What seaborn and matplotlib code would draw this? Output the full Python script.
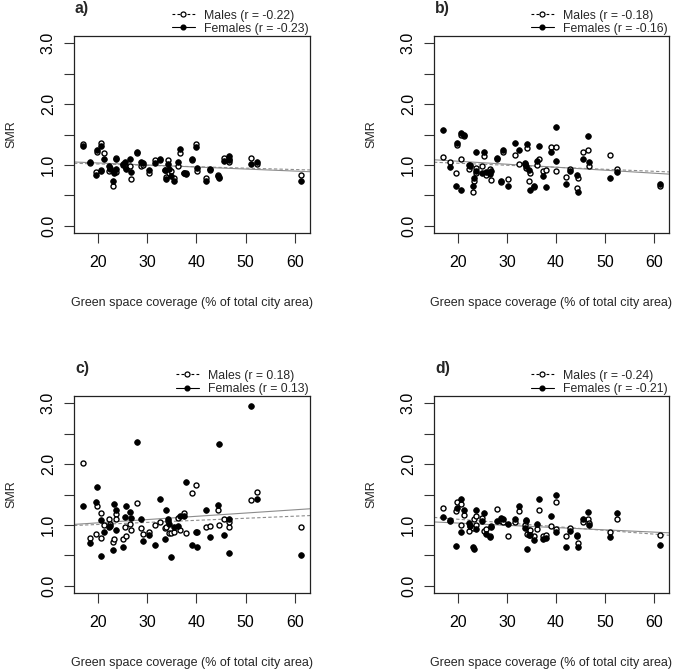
import numpy as np
import pandas as pd
import matplotlib
matplotlib.use("Agg")
import matplotlib.pyplot as plt
import seaborn as sns
from matplotlib.lines import Line2D

# Green space coverage (% of total city area) per city
green_space = [16.9, 18.4, 19.6, 19.8, 20.6, 20.7, 21.3, 22.2, 22.4, 23.1, 23.2, 23.6, 23.7,
               25.0, 25.4, 25.7, 26.5, 26.7, 27.9, 28.8, 29.2, 30.3, 31.6, 32.5, 33.6, 33.9,
               34.2, 34.5, 34.8, 35.5, 36.2, 36.6, 37.4, 37.9, 39.0, 40.0, 40.1, 42.0, 42.8,
               44.3, 44.6, 45.6, 46.6, 46.7, 51.0, 52.4, 61.3]

male_a = [1.35, 1.03, 0.89, 1.21, 1.36, 0.91, 1.19, 0.90, 0.95, 0.66, 0.89, 1.12, 0.89,
          1.00, 0.98, 0.95, 0.99, 0.76, 1.20, 0.98, 1.00, 0.87, 1.08, 1.08, 0.92, 0.80,
          1.08, 0.86, 0.90, 0.78, 0.99, 1.19, 0.87, 0.86, 1.08, 1.35, 0.90, 0.78, 0.92,
          0.83, 0.80, 1.11, 1.10, 1.04, 1.12, 1.01, 0.84]
female_a = [1.31, 1.05, 0.83, 1.24, 1.31, 0.90, 1.09, 0.98, 0.94, 0.74, 0.87, 1.09, 0.93,
            1.02, 1.04, 0.93, 1.10, 0.88, 1.22, 1.04, 1.03, 0.92, 1.03, 1.10, 0.91, 0.77,
            1.02, 0.94, 0.82, 0.74, 1.05, 1.26, 0.86, 0.85, 1.10, 1.29, 0.95, 0.73, 0.93,
            0.82, 0.79, 1.06, 1.15, 1.08, 1.02, 1.04, 0.74]

male_b = [1.13, 1.04, 0.87, 1.32, 1.50, 1.10, 1.47, 0.93, 1.00, 0.55, 0.74, 0.86, 0.95,
          0.99, 1.14, 0.83, 0.93, 0.75, 1.09, 0.72, 1.21, 0.77, 1.17, 1.02, 1.02, 0.95,
          1.28, 0.74, 0.87, 0.63, 1.00, 1.09, 0.90, 0.92, 1.29, 1.29, 0.90, 0.80, 0.93,
          0.62, 0.79, 1.22, 1.25, 0.98, 1.17, 0.93, 0.66]
female_b = [1.57, 0.97, 0.65, 1.36, 1.52, 0.58, 1.49, 1.00, 0.99, 0.65, 0.78, 1.21, 0.90,
            0.86, 1.21, 0.88, 0.85, 0.90, 1.12, 0.74, 1.25, 0.66, 1.36, 1.25, 1.03, 0.99,
            1.35, 0.91, 0.58, 0.66, 1.07, 1.31, 0.81, 0.64, 1.21, 1.63, 1.06, 0.68, 0.90,
            0.84, 0.55, 1.09, 1.47, 1.04, 0.78, 0.88, 0.68]

male_c = [2.01, 0.79, 0.85, 1.31, 1.20, 0.79, 1.00, 1.10, 1.02, 0.72, 0.77, 1.18, 1.10,
          0.76, 0.97, 0.81, 1.02, 0.91, 1.36, 0.95, 0.85, 0.89, 1.00, 1.05, 0.95, 0.97,
          1.07, 0.86, 0.86, 0.89, 1.12, 0.92, 1.19, 0.86, 1.52, 1.65, 0.89, 0.96, 0.98,
          1.24, 1.00, 1.09, 0.97, 1.05, 1.41, 1.54, 0.96]
female_c = [1.31, 0.70, 1.37, 1.62, 1.08, 0.49, 0.88, 0.96, 0.98, 0.59, 1.35, 1.24, 0.91,
            0.63, 1.13, 1.31, 1.21, 1.11, 2.37, 1.10, 0.74, 0.84, 0.67, 1.42, 0.76, 1.25,
            1.09, 1.02, 0.47, 0.97, 0.99, 1.15, 1.14, 1.71, 0.67, 0.89, 0.63, 1.24, 0.80,
            1.33, 2.33, 0.84, 1.10, 0.54, 2.95, 1.42, 0.50]

male_d = [1.28, 1.08, 1.23, 1.37, 1.35, 1.00, 1.16, 0.90, 0.99, 0.95, 1.09, 1.15, 1.00,
          1.12, 0.90, 0.93, 0.82, 0.98, 1.26, 1.06, 1.05, 0.81, 1.05, 1.23, 1.00, 1.06,
          0.85, 0.92, 0.92, 0.81, 0.94, 1.24, 0.82, 0.84, 0.99, 1.38, 0.93, 0.81, 0.95,
          0.83, 0.70, 1.04, 1.10, 1.03, 0.89, 1.09, 0.84]
female_d = [1.13, 1.07, 0.66, 1.28, 1.42, 0.88, 1.24, 1.03, 0.99, 0.64, 0.60, 1.24, 0.93,
            1.06, 1.19, 0.85, 0.80, 0.97, 1.06, 1.12, 1.09, 1.01, 1.09, 1.31, 0.95, 1.08,
            0.60, 0.84, 0.84, 0.75, 1.02, 1.43, 0.76, 0.79, 1.14, 1.49, 0.88, 0.63, 0.90,
            0.82, 0.64, 1.10, 1.22, 1.00, 0.80, 1.20, 0.67]

panel_labels = ["a)", "b)", "c)", "d)"]
r_male = [-0.22, -0.18, 0.18, -0.24]
r_female = [-0.23, -0.16, 0.13, -0.21]
x_ticks = [20, 30, 40, 50, 60]
y_ticks = [0.0, 0.5, 1.0, 1.5, 2.0, 2.5, 3.0]
y_tick_labels = ["0.0", "", "1.0", "", "2.0", "", "3.0"]
x_label = "Green space coverage (% of total city area)"
y_label = "SMR"

sns.set_theme(style="white")
plt.rcParams['font.family'] = ['Liberation Sans', 'DejaVu Sans']

W, H = 675, 672
fig = plt.figure(figsize=(W / 100, H / 100), dpi=100)

positions = [
    [74 / W, 1 - 233 / H, 236 / W, 197 / H],
    [434 / W, 1 - 233 / H, 235 / W, 197 / H],
    [74 / W, 1 - 593 / H, 236 / W, 197 / H],
    [434 / W, 1 - 593 / H, 235 / W, 197 / H],
]
males = [male_a, male_b, male_c, male_d]
females = [female_a, female_b, female_c, female_d]

XLIM = (15.12, 63.08)
YLIM = (-0.12, 3.12)
line_col = "#8c8c8c"

for i in range(4):
    ax = fig.add_axes(positions[i])
    ax.set_xlim(*XLIM)
    ax.set_ylim(*YLIM)
    df = pd.DataFrame({"x": green_space, "male": males[i], "female": females[i]})
    sns.regplot(data=df, x="x", y="male", ax=ax, scatter=False, ci=None, truncate=False,
                line_kws=dict(color=line_col, lw=0.8, ls=(0, (3, 2)), zorder=2))
    sns.regplot(data=df, x="x", y="female", ax=ax, scatter=False, ci=None, truncate=False,
                line_kws=dict(color=line_col, lw=0.8, ls="-", zorder=2))
    sns.scatterplot(data=df, x="x", y="male", ax=ax, marker="o", s=13,
                    facecolor="white", edgecolor="black", linewidth=1.0, zorder=3)
    sns.scatterplot(data=df, x="x", y="female", ax=ax, marker="o", s=17,
                    color="black", edgecolor="black", linewidth=0.5, zorder=4)
    ax.set_xlim(*XLIM)
    ax.set_ylim(*YLIM)

    ax.set_xticks(x_ticks)
    ax.set_xticklabels([str(t) for t in x_ticks])
    ax.set_yticks(y_ticks)
    ax.set_yticklabels(y_tick_labels, rotation=90, va="center")
    ax.tick_params(axis="both", direction="out", length=7, width=0.8, color="#333333",
                   labelsize=11.5, labelcolor="black", bottom=True, left=True)
    ax.tick_params(axis="x", pad=9)
    ax.tick_params(axis="y", pad=6)
    for sp in ax.spines.values():
        sp.set_visible(True)
        sp.set_color("#222222")
        sp.set_linewidth(0.9)

    ax.set_xlabel(x_label, fontsize=9)
    ax.set_ylabel(y_label, fontsize=9)
    ax.xaxis.set_label_coords(0.5, -70 / 197)
    ax.xaxis.label.set_va("center")
    ax.yaxis.set_label_coords(-63 / 236, 0.5)
    ax.yaxis.label.set_va("center")

    ax.text(0.004, 1 + 27 / 197, panel_labels[i], transform=ax.transAxes,
            fontsize=11.3, fontweight="bold", ha="left", va="center")

    handles = [
        Line2D([0], [0], color="black", lw=0.8, ls=(0, (2.5, 2)), marker="o", markersize=3.6,
               mfc="white", mec="black", mew=0.9),
        Line2D([0], [0], color="black", lw=0.8, ls="-", marker="o", markersize=3.4,
               mfc="black", mec="black"),
    ]
    labels = [f"Males (r = {r_male[i]:.2f})", f"Females (r = {r_female[i]:.2f})"]
    ax.legend(handles, labels, loc="lower right", bbox_to_anchor=(1.0, 1.0), frameon=False,
              fontsize=8.8, handlelength=1.9, handletextpad=0.74, labelspacing=0.1,
              borderaxespad=0.0, borderpad=0.1)

fig.savefig("out.png", dpi=100)
